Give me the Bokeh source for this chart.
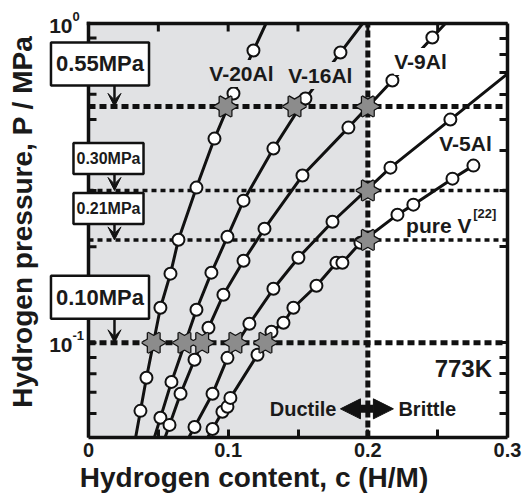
import math
from bokeh.plotting import figure
from bokeh.models import (Range1d, FixedTicker, LogAxis, CustomJSTickFormatter, Label,
                          Arrow, VeeHead, NormalHead)
from bokeh.embed import file_html
from bokeh.resources import INLINE

FONT = "Liberation Sans"
INK = "#111111"
TXT = "#1a1a1a"
SHADE = "#e1e2e4"

# ---------------- data ----------------
c_v20 = [0.0372, 0.0415, 0.0515, 0.0587, 0.0644, 0.0773, 0.0902, 0.1038, 0.1181]
p_v20 = [0.0612, 0.0777, 0.1287, 0.1646, 0.2103, 0.3062, 0.436, 0.6033, 0.8229]

c_v16 = [0.0515, 0.0594, 0.0773, 0.0880, 0.0995, 0.1110, 0.1324, 0.1553, 0.1804]
p_v16 = [0.0582, 0.0754, 0.1269, 0.1658, 0.2149, 0.2787, 0.4057, 0.5820, 0.811]

c_v9 = [0.0580, 0.0659, 0.0759, 0.0859, 0.0966, 0.1110, 0.1260, 0.1532, 0.1861, 0.2176, 0.2462]
p_v9 = [0.0553, 0.0692, 0.0885, 0.1114, 0.1414, 0.1807, 0.2277, 0.3340, 0.472, 0.663, 0.904]

c_v5 = [0.0759, 0.0888, 0.0995, 0.1152, 0.1324, 0.1503, 0.1747, 0.2162, 0.2591]
p_v5 = [0.0545, 0.0692, 0.0897, 0.1147, 0.1476, 0.1847, 0.2394, 0.3536, 0.5001]

c_pure = [0.0888, 0.0959, 0.0995, 0.1016, 0.1210, 0.1310, 0.1396, 0.1467, 0.1632,
          0.1775, 0.1818, 0.1947, 0.2212, 0.2326, 0.2606, 0.2756]
p_pure = [0.0537, 0.0608, 0.0630, 0.0672, 0.0917, 0.1083, 0.1155, 0.1287, 0.1509,
          0.1781, 0.1781, 0.2058, 0.2519, 0.2708, 0.3266, 0.3588]

# star markers: where each alloy meets its critical condition
star_c = [0.0981, 0.1475, 0.2, 0.2, 0.2, 0.0467, 0.0687, 0.0814, 0.1052, 0.1267]
star_p = [0.55, 0.55, 0.55, 0.30, 0.21, 0.10, 0.10, 0.10, 0.10, 0.10]

pressures = [0.55, 0.30, 0.21, 0.10]
pressure_labels = ["0.55MPa", "0.30MPa", "0.21MPa", "0.10MPa"]
c_boundary = 0.2

C_MIN, C_MAX = 0.0, 0.3
P_MIN, P_MAX = 0.0505, 1.0
x_ticks = [0, 0.1, 0.2, 0.3]
x_tick_labels = ["0", "0.1", "0.2", "0.3"]
x_minor = [0.05, 0.15, 0.25]
y_ticks = [0.1, 1.0]
y_minor = [0.06, 0.07, 0.08, 0.09, 0.2, 0.3, 0.4, 0.5, 0.6, 0.7, 0.8, 0.9]

series_names = ["V-20Al", "V-16Al", "V-9Al", "V-5Al", "pure V"]

# ---------------- layout (pixels) ----------------
W, H = 522, 498
AX_LEFT_PX = 88          # where c = 0 sits
AX_TOP_PX = 23           # where P = 1 sits
BORDER_R, BORDER_B = 15, 61
frame_w = W - BORDER_R
frame_h = H - BORDER_B
px_per_c = (frame_w - AX_LEFT_PX) / (C_MAX - C_MIN)
px_per_dec = (frame_h - AX_TOP_PX) / (math.log10(P_MAX) - math.log10(P_MIN))
x_lo = C_MIN - AX_LEFT_PX / px_per_c
y_hi = P_MAX * 10 ** (AX_TOP_PX / px_per_dec)

p = figure(width=W, height=H, x_range=Range1d(x_lo, C_MAX), y_range=Range1d(P_MIN, y_hi),
           y_axis_type="log", output_backend="svg", toolbar_location=None,
           min_border=0, min_border_left=0, min_border_top=0,
           min_border_right=BORDER_R, min_border_bottom=BORDER_B)
p.xgrid.visible = False
p.ygrid.visible = False
p.outline_line_color = None
p.background_fill_color = "white"
p.border_fill_color = "white"
p.left[0].visible = False

TICK_LEN = 8


def style_axis(ax):
    ax.axis_line_width = 3.5
    ax.axis_line_color = INK
    ax.major_tick_line_width = 3
    ax.minor_tick_line_width = 3
    ax.major_tick_line_color = INK
    ax.minor_tick_line_color = INK
    ax.major_tick_in = TICK_LEN
    ax.major_tick_out = 0
    ax.minor_tick_in = TICK_LEN
    ax.minor_tick_out = 0
    ax.major_label_text_font = FONT
    ax.major_label_text_font_style = "bold"
    ax.major_label_text_color = TXT


xa = p.below[0]
xa.ticker = FixedTicker(ticks=x_ticks, minor_ticks=x_minor)
xa.bounds = (C_MIN, C_MAX)
xa.major_label_overrides = {t: l for t, l in zip(x_ticks, x_tick_labels)}
style_axis(xa)
xa.major_label_text_font_size = "20px"
xa.major_label_standoff = 5
xa.axis_label = "Hydrogen content, c (H/M)"
xa.axis_label_text_font = FONT
xa.axis_label_text_font_style = "bold"
xa.axis_label_text_font_size = "28px"
xa.axis_label_text_color = TXT
xa.axis_label_standoff = 2

right = LogAxis(ticker=FixedTicker(ticks=y_ticks, minor_ticks=y_minor),
                formatter=CustomJSTickFormatter(code="return ''"), bounds=(P_MIN, P_MAX))
style_axis(right)
right.major_label_text_font_size = "0px"
right.major_label_standoff = 0
p.add_layout(right, "right")

# ductile region shading
p.quad(left=[C_MIN], right=[c_boundary], bottom=[P_MIN], top=[P_MAX],
       fill_color=SHADE, line_color=None)

# left and top frame lines with inward ticks
p.segment(x0=[C_MIN, C_MIN], y0=[P_MIN, P_MAX], x1=[C_MIN, C_MAX], y1=[P_MAX, P_MAX],
          line_width=3.5, line_color=INK, line_cap="square")
p.ray(x=[C_MIN] * len(y_ticks + y_minor), y=y_ticks + y_minor, length=TICK_LEN,
      length_units="screen", angle=0, line_width=3, line_color=INK)
p.ray(x=x_ticks + x_minor, y=[P_MAX] * len(x_ticks + x_minor), length=TICK_LEN,
      length_units="screen", angle=-math.pi / 2, line_width=3, line_color=INK)

# dashed reference lines
thick = [pressures[0], pressures[3]]
thin = [pressures[1], pressures[2]]
p.segment(x0=[C_MIN] * 2, x1=[C_MAX] * 2, y0=thick, y1=thick,
          line_width=5, line_dash="7 4", line_color=INK)
p.segment(x0=[C_MIN] * 2, x1=[C_MAX] * 2, y0=thin, y1=thin,
          line_width=3.5, line_dash="5 4", line_color=INK)
p.segment(x0=[c_boundary], x1=[c_boundary], y0=[P_MIN], y1=[P_MAX],
          line_width=5, line_dash="7 3", line_color=INK)


def extended(cs, ps, high=True):
    pts = sorted(zip(ps, cs))
    xs = [b for _, b in pts]
    ys = [a for a, _ in pts]
    (p0, c0), (p1, c1) = pts[0], pts[1]
    k = (c1 - c0) / (math.log10(p1) - math.log10(p0))
    xs.insert(0, c0 + k * (math.log10(P_MIN) - math.log10(p0)))
    ys.insert(0, P_MIN)
    if high:
        (p0, c0), (p1, c1) = pts[-2], pts[-1]
        k = (c1 - c0) / (math.log10(p1) - math.log10(p0))
        xs.append(c1 + k * (math.log10(P_MAX) - math.log10(p1)))
        ys.append(P_MAX)
    return xs, ys


all_series = [(c_v20, p_v20, True), (c_v16, p_v16, True), (c_v9, p_v9, True),
              (c_v5, p_v5, True), (c_pure, p_pure, False)]
for cs, ps, hi in all_series:
    lx, ly = extended(cs, ps, hi)
    p.line(lx, ly, line_width=3, line_color=INK)
for cs, ps, hi in all_series:
    p.scatter(cs, ps, marker="circle", size=12, fill_color="white",
              line_color=INK, line_width=2)

# hexagram stars (two opposed triangles)
STAR_GRAY = "#8c8c8c"
for ang in (math.pi / 2, -math.pi / 2):
    p.scatter(star_c, star_p, marker="triangle", size=20, angle=ang,
              fill_color=STAR_GRAY, line_color=INK, line_width=2.5)
for ang in (math.pi / 2, -math.pi / 2):
    p.scatter(star_c, star_p, marker="triangle", size=20, angle=ang,
              fill_color=STAR_GRAY, line_color=None)


def lab(x, y, text, size="21px", align="center", baseline="middle", style="bold", **kw):
    p.add_layout(Label(x=x, y=y, text=text, text_align=align, text_baseline=baseline,
                       text_font=FONT, text_font_style=style, text_font_size=size,
                       text_color=TXT, **kw))


# y tick labels as 10 with superscript exponent
for t in y_ticks:
    lab(C_MIN, t, "10", size="21px", align="right", x_offset=-16, y_offset=-2)
    lab(C_MIN, t, str(int(round(math.log10(t)))), size="13px", align="left",
        x_offset=-16, y_offset=7)

# y axis title
lab(C_MIN, 0.2394, "Hydrogen pressure, P / MPa", size="28px", angle=math.pi / 2,
    x_offset=-66)

# pressure boxes with arrows
box_dx = [11.5, 20, 20, 11.5]
box_dy = [42.5, 32, 31.5, 45.5]
box_fs = ["22px", "16px", "16px", "22px"]
box_pad = [(5, 9), (3, 7), (3, 7), (5, 9)]
arrow_len = [25, 20, 20, 30]
ARROW_C = 0.0186
for pr, txt, dx, dy, fs, pad, al in zip(pressures, pressure_labels, box_dx, box_dy,
                                         box_fs, box_pad, arrow_len):
    p.add_layout(Arrow(end=VeeHead(size=13, fill_color=INK, line_color=INK),
                       x_start=ARROW_C, y_start=pr * 10 ** (al / px_per_dec),
                       x_end=ARROW_C, y_end=pr, line_width=2.5, line_color=INK))
    p.add_layout(Label(x=C_MIN, y=pr, x_offset=dx, y_offset=dy, text=txt,
                       text_align="center", text_baseline="middle",
                       text_font=FONT, text_font_style="bold", text_font_size=fs,
                       text_color=TXT, background_fill_color="white",
                       border_line_color=INK, border_line_width=2.5, padding=pad))

# series labels (masking the curves behind them, as in the original)
lab(0.1095, 0.697, series_names[0], background_fill_color=SHADE, padding=(0, 2))
lab(0.166, 0.687, series_names[1], background_fill_color=SHADE, padding=(0, 2))
lab(0.2377, 0.760, series_names[2], background_fill_color="white", padding=(0, 2))
lab(0.2699, 0.4205, series_names[3])
lab(0.2742, 0.2327, series_names[4], align="right")
lab(0.2755, 0.2538, "[22]", size="13px", align="left")
lab(0.2684, 0.0829, "773K", size="24px")
lab(0.1775, 0.0621, "Ductile", size="20px", align="right")
lab(0.2219, 0.0621, "Brittle", size="20px", align="left")

p.add_layout(Arrow(start=NormalHead(size=20, fill_color=INK, line_color=INK),
                   end=NormalHead(size=20, fill_color=INK, line_color=INK),
                   x_start=0.1804, y_start=0.0621, x_end=0.2183, y_end=0.0621,
                   line_width=8, line_color=INK))

open("out.html", "w").write(file_html(p, INLINE))
